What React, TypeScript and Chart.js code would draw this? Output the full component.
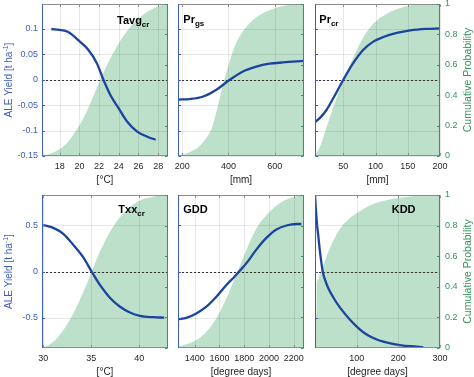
import React, { useEffect, useRef } from "react";
import { Chart, registerables } from "chart.js";
Chart.register(...registerables);

// ---------------- data ----------------
// Tavg_cr  [°C]
const tavgLineX = [17.15, 18.0, 18.85, 20.05, 20.9, 21.76, 22.44, 23.13, 23.98, 24.84, 25.87, 26.9, 27.74];
const tavgLineY = [0.0998, 0.098, 0.094, 0.075, 0.059, 0.033, 0.0, -0.0295, -0.056, -0.082, -0.102, -0.112, -0.118];
const tavgCdfX = [16.2, 16.97, 17.83, 18.7, 19.54, 20.4, 21.25, 22.1, 22.97, 23.8, 24.67, 25.5, 26.36, 27.2, 28.2, 29.0];
const tavgCdfY = [0, 0.013, 0.039, 0.083, 0.154, 0.248, 0.368, 0.5, 0.62, 0.72, 0.807, 0.873, 0.923, 0.96, 0.99, 1.0];
const tavgTicks = [18, 20, 22, 24, 26, 28];

// Pr_gs [mm]
const prgsLineX = [183, 233, 291, 348, 406, 463, 521, 578, 636, 725];
const prgsLineY = [-0.039, -0.038, -0.033, -0.0197, 0, 0.0164, 0.026, 0.0315, 0.034, 0.037];
const prgsCdfX = [182, 219, 262, 298, 327, 348, 370, 399, 427, 463, 506, 564, 636, 708, 727];
const prgsCdfY = [0, 0.018, 0.05, 0.105, 0.18, 0.29, 0.43, 0.59, 0.72, 0.82, 0.895, 0.95, 0.987, 0.998, 1.0];
const prgsTicks = [200, 400, 600];

// Pr_cr [mm]
const prcrLineX = [6, 13.8, 24.1, 34.5, 50, 65.5, 81, 96.5, 112, 133, 153.7, 179, 200];
const prcrLineY = [-0.0833, -0.075, -0.059, -0.036, 0, 0.033, 0.059, 0.075, 0.084, 0.092, 0.097, 0.1, 0.101];
const prcrCdfX = [6, 13.8, 24.1, 34.5, 50, 65.5, 81, 96.5, 117, 138, 164, 200];
const prcrCdfY = [0, 0.061, 0.192, 0.323, 0.498, 0.65, 0.782, 0.87, 0.934, 0.973, 0.996, 1.0];
const prcrTicks = [50, 100, 150, 200];

// Txx_cr [°C]
const txxLineX = [30, 31.04, 32.08, 33.1, 34.17, 35.03, 35.9, 36.94, 38.0, 39.03, 40.07, 41.46, 42.6];
const txxLineY = [0.5, 0.471, 0.406, 0.29, 0.152, 0, -0.145, -0.283, -0.38, -0.442, -0.478, -0.493, -0.497];
const txxCdfX = [29.86, 30.69, 31.56, 32.43, 33.3, 34.17, 35.03, 35.9, 36.77, 37.64, 38.5, 39.4, 40.42, 41.46, 42.15, 43];
const txxCdfY = [0, 0.024, 0.074, 0.15, 0.246, 0.366, 0.497, 0.63, 0.739, 0.826, 0.891, 0.939, 0.974, 0.989, 0.996, 1.0];
const txxTicks = [30, 35, 40];

// GDD [degree days]
const gddLineX = [1265, 1333, 1413, 1494, 1575, 1656, 1723, 1764, 1818, 1898, 1979, 2060, 2141, 2222, 2262];
const gddLineY = [-0.514, -0.5, -0.453, -0.38, -0.272, -0.145, -0.054, 0.007, 0.09, 0.236, 0.362, 0.453, 0.496, 0.512, 0.512];
const gddCdfX = [1265, 1333, 1413, 1494, 1575, 1656, 1723, 1791, 1858, 1925, 2006, 2087, 2168, 2248, 2283];
const gddCdfY = [0.01, 0.024, 0.052, 0.107, 0.194, 0.325, 0.455, 0.586, 0.717, 0.815, 0.891, 0.946, 0.978, 0.996, 1.0];
const gddTicks = [1400, 1600, 1800, 2000, 2200];

// KDD [degree days]
const kddLineX = [0, 2, 5, 8, 11, 14, 18.5, 25, 32, 44, 60, 84, 104, 124, 144, 164, 184, 204, 230, 260];
const kddLineY = [0.83, 0.68, 0.5, 0.38, 0.25, 0.14, 0, -0.1, -0.18, -0.28, -0.39, -0.52, -0.61, -0.68, -0.725, -0.756, -0.778, -0.793, -0.806, -0.815];
const kddCdfX = [0, 3.5, 4, 8, 10, 20, 28, 40, 60, 80, 100, 130, 163, 200, 227, 260, 300];
const kddCdfY = [0.22, 0.22, 0.42, 0.45, 0.47, 0.54, 0.6, 0.68, 0.78, 0.84, 0.88, 0.93, 0.96, 0.98, 0.99, 0.997, 1.0];
const kddTicks = [100, 200, 300];

// y axes
const topYTicks = [-0.15, -0.1, -0.05, 0, 0.05, 0.1];
const topYLabels = ["-0.15", "-0.1", "-0.05", "0", "0.05", "0.1"];
const botYTicks = [-0.5, 0, 0.5];
const botYLabels = ["-0.5", "0", "0.5"];
const probTicks = [0, 0.2, 0.4, 0.6, 0.8, 1];
const probLabels = ["0", "0.2", "0.4", "0.6", "0.8", "1"];

// ---------------- styling / layout ----------------
const FONT = "'Liberation Sans', Arial, Helvetica, sans-serif";
const BLUE_LINE = "#1b449f";
const BLUE_AXIS = "#3d5cc2";
const GREEN_FILL = "#bde0cb";
const GREEN_AXIS = "#33955a";
const TEXT = "#262626";
const FRAME = "#8c8c8c";
const ML = 42, MR = 34, MT = 8, MB = 36;

type Run = { t: string; size: number; bold?: boolean; dy?: number };

type Panel = {
  id: string;
  box: [number, number, number, number];
  title: Run[];
  titleAt: [number, number];
  xMin: number; xMax: number; xTicks: number[]; xLabel: string;
  yMin: number; yMax: number; yTicks: number[]; yLabels: string[];
  showLeft: boolean; showRight: boolean;
  lx: number[]; ly: number[]; cx: number[]; cy: number[];
};

const T1 = 4, B1 = 156, T2 = 195, B2 = 348;
const C1: [number, number] = [42, 168], C2: [number, number] = [178, 304], C3: [number, number] = [315, 440];

const panels: Panel[] = [
  { id: "tavg", box: [C1[0], T1, C1[1], B1], title: [{ t: "Tavg", size: 11, bold: true }, { t: "cr", size: 8, bold: true, dy: 3 }], titleAt: [75, 19.5],
    xMin: 16.2, xMax: 29.0, xTicks: tavgTicks, xLabel: "[°C]", yMin: -0.15, yMax: 0.149, yTicks: topYTicks, yLabels: topYLabels,
    showLeft: true, showRight: false, lx: tavgLineX, ly: tavgLineY, cx: tavgCdfX, cy: tavgCdfY },
  { id: "prgs", box: [C2[0], T1, C2[1], B1], title: [{ t: "Pr", size: 11, bold: true }, { t: "gs", size: 8, bold: true, dy: 3 }], titleAt: [5.3, 19.3],
    xMin: 182, xMax: 727, xTicks: prgsTicks, xLabel: "[mm]", yMin: -0.15, yMax: 0.149, yTicks: topYTicks, yLabels: topYLabels,
    showLeft: false, showRight: false, lx: prgsLineX, ly: prgsLineY, cx: prgsCdfX, cy: prgsCdfY },
  { id: "prcr", box: [C3[0], T1, C3[1], B1], title: [{ t: "Pr", size: 11, bold: true }, { t: "cr", size: 8, bold: true, dy: 3 }], titleAt: [4.3, 18.7],
    xMin: 6, xMax: 200, xTicks: prcrTicks, xLabel: "[mm]", yMin: -0.15, yMax: 0.149, yTicks: topYTicks, yLabels: topYLabels,
    showLeft: false, showRight: true, lx: prcrLineX, ly: prcrLineY, cx: prcrCdfX, cy: prcrCdfY },
  { id: "txx", box: [C1[0], T2, C1[1], B2], title: [{ t: "Txx", size: 11, bold: true }, { t: "cr", size: 8, bold: true, dy: 3 }], titleAt: [76.3, 18.3],
    xMin: 29.86, xMax: 43, xTicks: txxTicks, xLabel: "[°C]", yMin: -0.825, yMax: 0.825, yTicks: botYTicks, yLabels: botYLabels,
    showLeft: true, showRight: false, lx: txxLineX, ly: txxLineY, cx: txxCdfX, cy: txxCdfY },
  { id: "gdd", box: [C2[0], T2, C2[1], B2], title: [{ t: "GDD", size: 11, bold: true }], titleAt: [5.3, 18.3],
    xMin: 1265, xMax: 2283, xTicks: gddTicks, xLabel: "[degree days]", yMin: -0.825, yMax: 0.825, yTicks: botYTicks, yLabels: botYLabels,
    showLeft: false, showRight: false, lx: gddLineX, ly: gddLineY, cx: gddCdfX, cy: gddCdfY },
  { id: "kdd", box: [C3[0], T2, C3[1], B2], title: [{ t: "KDD", size: 11, bold: true }], titleAt: [76.7, 18.3],
    xMin: 0, xMax: 300, xTicks: kddTicks, xLabel: "[degree days]", yMin: -0.825, yMax: 0.825, yTicks: botYTicks, yLabels: botYLabels,
    showLeft: false, showRight: true, lx: kddLineX, ly: kddLineY, cx: kddCdfX, cy: kddCdfY },
];

function fontStr(r: Run) {
  return `${r.bold ? "bold " : ""}${r.size}px ${FONT}`;
}

function drawRuns(ctx: CanvasRenderingContext2D, runs: Run[], x: number, y: number, align: "left" | "center", rot: number, color: string) {
  ctx.save();
  ctx.translate(x, y);
  ctx.rotate(rot);
  ctx.fillStyle = color;
  ctx.textBaseline = "alphabetic";
  ctx.textAlign = "left";
  let total = 0;
  const widths = runs.map((r) => {
    ctx.font = fontStr(r);
    const w = ctx.measureText(r.t).width;
    total += w;
    return w;
  });
  let cur = align === "center" ? -total / 2 : 0;
  runs.forEach((r, i) => {
    ctx.font = fontStr(r);
    ctx.fillText(r.t, cur, r.dy || 0);
    cur += widths[i];
  });
  ctx.restore();
}

function buildChart(canvas: HTMLCanvasElement, p: Panel) {
  const [L, T, R, B] = p.box;
  const ox = L - ML;
  const deco = {
    id: "deco_" + p.id,
    beforeDatasetDraw(chart: any, args: any) {
      if (args.index !== 1) return;
      const { ctx, chartArea: a, scales } = chart;
      ctx.save();
      ctx.strokeStyle = "rgba(0,0,0,0.09)";
      ctx.lineWidth = 1;
      ctx.beginPath();
      for (const v of p.xTicks) {
        const x = Math.round(scales.x.getPixelForValue(v)) + 0.5;
        ctx.moveTo(x, a.top);
        ctx.lineTo(x, a.bottom);
      }
      for (const v of p.yTicks) {
        const y = Math.round(scales.y.getPixelForValue(v)) + 0.5;
        ctx.moveTo(a.left, y);
        ctx.lineTo(a.right, y);
      }
      ctx.stroke();
      const y0 = Math.round(scales.y.getPixelForValue(0)) + 0.5;
      ctx.setLineDash([2, 2]);
      ctx.strokeStyle = "#333";
      ctx.beginPath();
      ctx.moveTo(a.left, y0);
      ctx.lineTo(a.right, y0);
      ctx.stroke();
      ctx.restore();
    },
    afterDraw(chart: any) {
      const { ctx, chartArea: a, scales } = chart;
      ctx.save();
      ctx.lineWidth = 1;
      const l = a.left + 0.5, r = a.right - 0.5, t = a.top + 0.5, b = a.bottom - 0.5;
      ctx.strokeStyle = FRAME;
      ctx.beginPath();
      ctx.moveTo(l, t); ctx.lineTo(r, t);
      ctx.moveTo(l, b); ctx.lineTo(r, b);
      for (const v of p.xTicks) {
        const x = Math.round(scales.x.getPixelForValue(v)) + 0.5;
        ctx.moveTo(x, b); ctx.lineTo(x, b - 2.5);
        ctx.moveTo(x, t); ctx.lineTo(x, t + 2.5);
      }
      ctx.stroke();
      ctx.strokeStyle = BLUE_AXIS;
      ctx.beginPath();
      ctx.moveTo(l, a.top); ctx.lineTo(l, a.bottom);
      for (const v of p.yTicks) {
        const y = Math.round(scales.y.getPixelForValue(v)) + 0.5;
        ctx.moveTo(l, y); ctx.lineTo(l + 2.5, y);
      }
      ctx.stroke();
      ctx.strokeStyle = GREEN_AXIS;
      ctx.beginPath();
      ctx.moveTo(r, a.top); ctx.lineTo(r, a.bottom);
      for (const v of probTicks) {
        const y = Math.round(scales.y2.getPixelForValue(v)) + 0.5;
        ctx.moveTo(r, y); ctx.lineTo(r - 2.5, y);
      }
      ctx.stroke();
      ctx.restore();
      drawRuns(ctx, p.title, a.left + p.titleAt[0], a.top + p.titleAt[1], "left", 0, "#000");
      drawRuns(ctx, [{ t: p.xLabel, size: 10 }], (a.left + a.right) / 2, a.bottom + 27, "center", 0, TEXT);
      const cyMid = (a.top + a.bottom) / 2;
      if (p.showLeft) {
        drawRuns(ctx, [{ t: "ALE Yield [t ha", size: 10 }, { t: "-1", size: 7, dy: -4 }, { t: "]", size: 10 }],
          12 - ox, cyMid, "center", -Math.PI / 2, BLUE_AXIS);
      }
      if (p.showRight) {
        drawRuns(ctx, [{ t: "Cumulative Probability", size: 10.5 }], R + 31 - ox, cyMid, "center", -Math.PI / 2, GREEN_AXIS);
      }
    },
  };

  const lineData = p.lx.map((x, i) => ({ x, y: p.ly[i] }));
  const cdfData = p.cx.map((x, i) => ({ x, y: p.cy[i] }));

  return new Chart(canvas, {
    type: "line",
    data: {
      datasets: [
        {
          data: cdfData, yAxisID: "y2", xAxisID: "x", fill: "origin", backgroundColor: GREEN_FILL, order: 2,
          borderColor: "rgba(0,0,0,0)", borderWidth: 0, pointRadius: 0, cubicInterpolationMode: "monotone",
        },
        {
          data: lineData, yAxisID: "y", xAxisID: "x", fill: false, borderColor: BLUE_LINE, borderWidth: 2.3, order: 1,
          pointRadius: 0, cubicInterpolationMode: "monotone",
        },
      ],
    } as any,
    options: {
      responsive: false,
      animation: false,
      events: [],
      layout: { padding: { top: MT, left: 0, right: 0, bottom: 0 } },
      plugins: { legend: { display: false }, tooltip: { enabled: false } },
      scales: {
        x: {
          type: "linear", position: "bottom", min: p.xMin, max: p.xMax,
          grid: { display: false, drawTicks: false }, border: { display: false },
          ticks: {
            font: { family: FONT, size: 9 }, color: TEXT, padding: 5, maxRotation: 0, autoSkip: false,
            callback: (v: any) => String(v),
          },
          afterBuildTicks: (s: any) => { s.ticks = p.xTicks.map((v) => ({ value: v })); },
          afterFit: (s: any) => { s.height = MB; s.paddingLeft = 0; s.paddingRight = 0; },
        },
        y: {
          type: "linear", position: "left", min: p.yMin, max: p.yMax,
          grid: { display: false, drawTicks: false }, border: { display: false },
          ticks: {
            display: p.showLeft, font: { family: FONT, size: 9 }, color: BLUE_AXIS, padding: 4,
            callback: (_v: any, i: number) => p.yLabels[i],
          },
          afterBuildTicks: (s: any) => { s.ticks = p.yTicks.map((v) => ({ value: v })); },
          afterFit: (s: any) => { s.width = ML; s.paddingTop = 0; s.paddingBottom = 0; },
        },
        y2: {
          type: "linear", position: "right", min: 0, max: 1,
          grid: { display: false, drawTicks: false }, border: { display: false },
          ticks: {
            display: p.showRight, font: { family: FONT, size: 9 }, color: GREEN_AXIS, padding: 5,
            callback: (_v: any, i: number) => probLabels[i],
          },
          afterBuildTicks: (s: any) => { s.ticks = probTicks.map((v) => ({ value: v })); },
          afterFit: (s: any) => { s.width = MR; s.paddingTop = 0; s.paddingBottom = 0; },
        },
      },
    } as any,
    plugins: [deco],
  });
}

function PanelCanvas({ p }: { p: Panel }) {
  const ref = useRef<HTMLCanvasElement | null>(null);
  useEffect(() => {
    const chart = buildChart(ref.current as HTMLCanvasElement, p);
    return () => chart.destroy();
  }, []);
  const [L, T, R, B] = p.box;
  const w = R - L + ML + MR, h = B - T + MT + MB;
  return (
    <canvas ref={ref} width={w} height={h}
      style={{ position: "absolute", left: L - ML, top: T - MT, width: w, height: h }} />
  );
}

export default function App() {
  return (
    <div style={{ position: "fixed", left: 0, top: 0, width: 474, height: 377, background: "#fff", overflow: "hidden" }}>
      {panels.map((p) => <PanelCanvas key={p.id} p={p} />)}
    </div>
  );
}
